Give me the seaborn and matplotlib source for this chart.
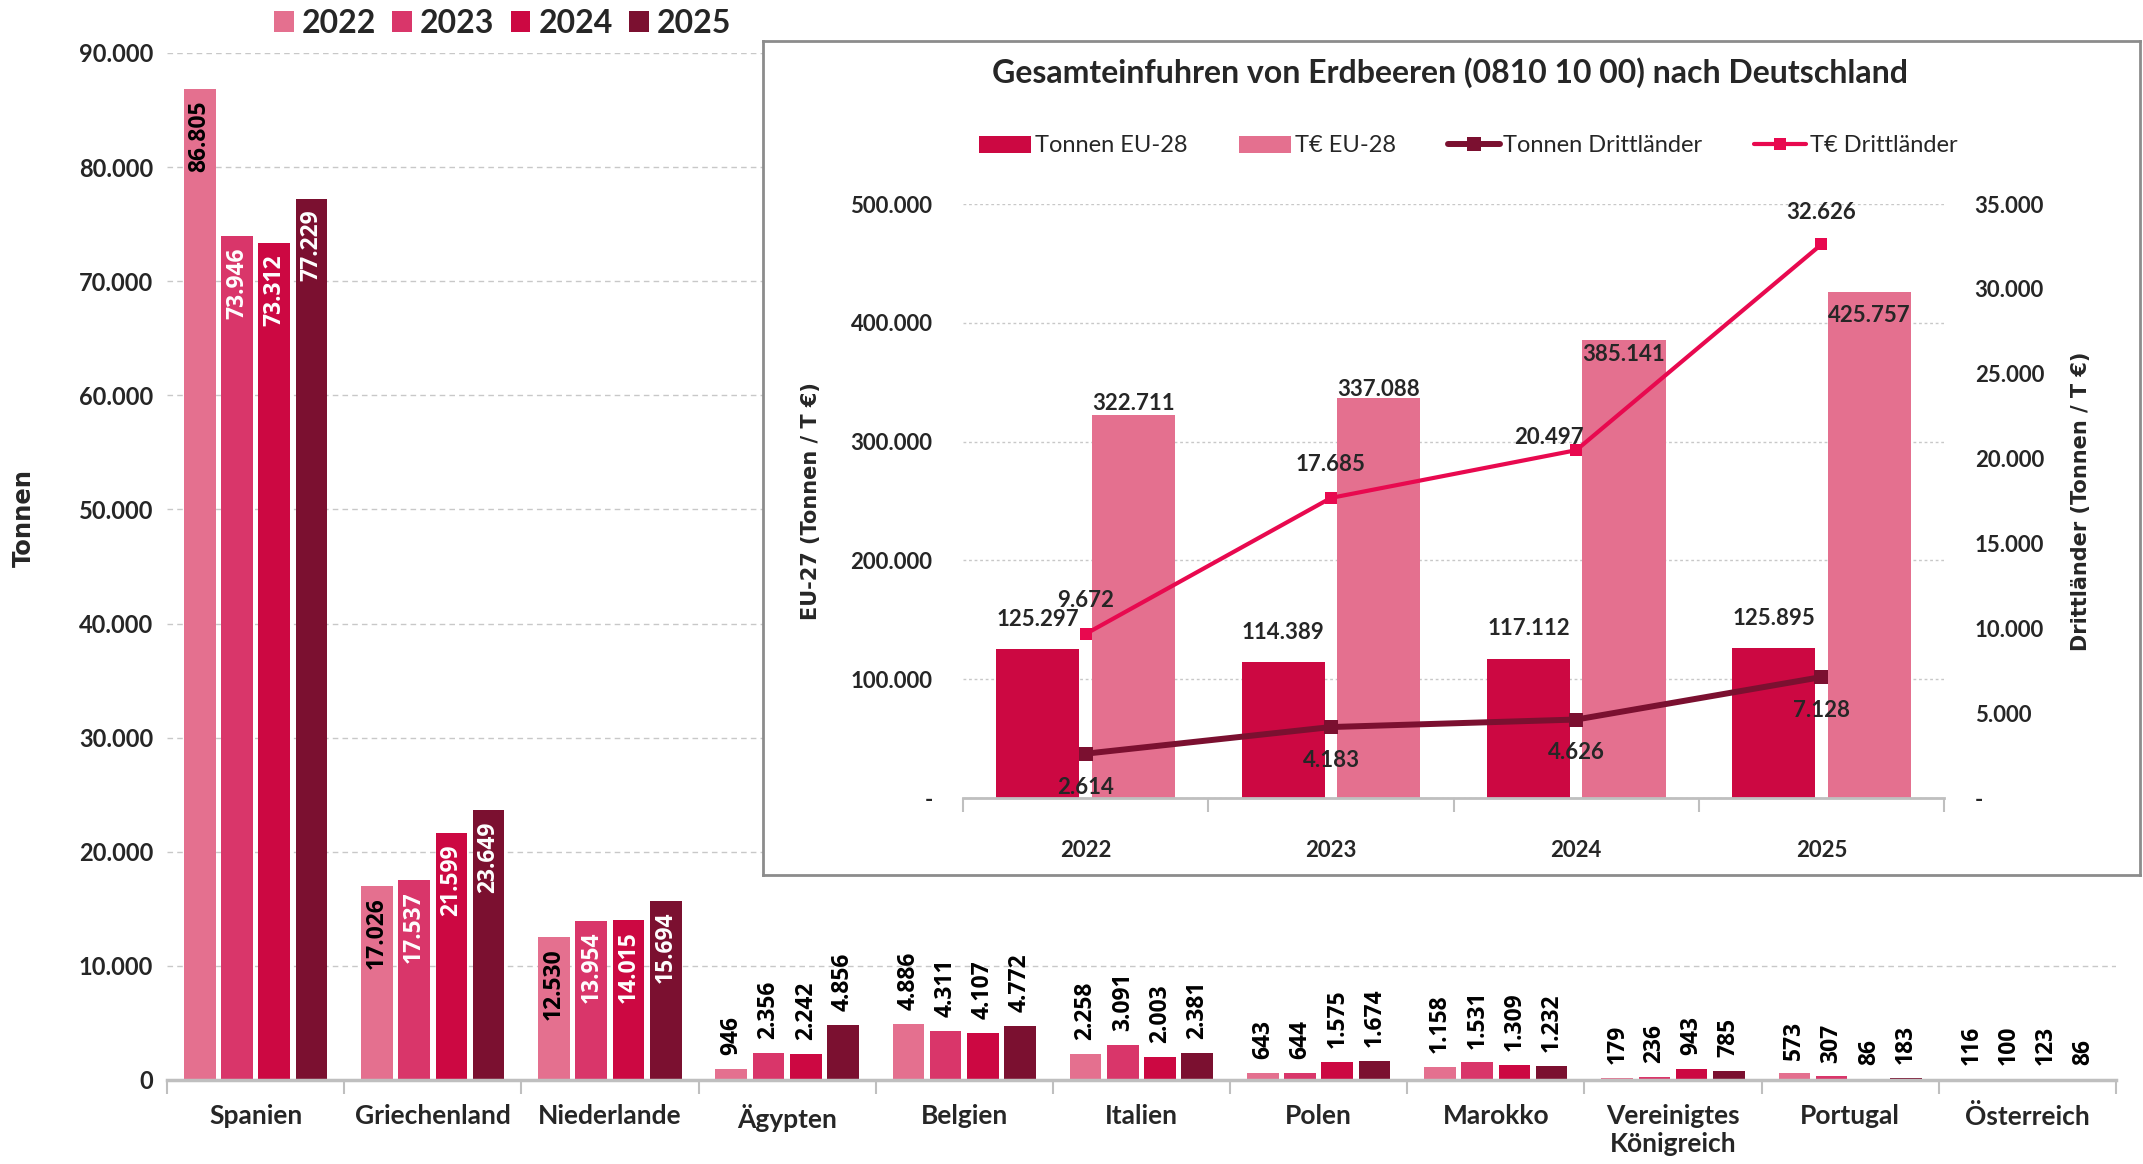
import numpy as np
import pandas as pd
import matplotlib
matplotlib.use("Agg")
import matplotlib.pyplot as plt
from matplotlib.ticker import FuncFormatter, FixedLocator, MultipleLocator
from matplotlib.patches import Patch
from matplotlib.lines import Line2D
import seaborn as sns

sns.set_theme(style="white")
plt.rcParams["font.family"] = ["Lato", "DejaVu Sans"]

# ---------- data: main chart (Tonnen je Herkunftsland) ----------
laender = ["Spanien", "Griechenland", "Niederlande", "Ägypten", "Belgien", "Italien",
           "Polen", "Marokko", "Vereinigtes\nKönigreich", "Portugal", "Österreich"]
jahre = ["2022", "2023", "2024", "2025"]
t2022 = [86805, 17026, 12530, 946, 4886, 2258, 643, 1158, 179, 573, 116]
t2023 = [73946, 17537, 13954, 2356, 4311, 3091, 644, 1531, 236, 307, 100]
t2024 = [73312, 21599, 14015, 2242, 4107, 2003, 1575, 1309, 943, 86, 123]
t2025 = [77229, 23649, 15694, 4856, 4772, 2381, 1674, 1232, 785, 183, 86]
farben_jahr = ["#E4708F", "#D9366A", "#CC0842", "#7B1030"]

# ---------- data: inset (Gesamteinfuhren) ----------
eu_tonnen = [125297, 114389, 117112, 125895]
eu_teuro = [322711, 337088, 385141, 425757]
dl_tonnen = [2614, 4183, 4626, 7128]
dl_teuro = [9672, 17685, 20497, 32626]


def de(v):
    return f"{int(round(v)):,}".replace(",", ".")


fig = plt.figure(figsize=(21.43, 11.64), dpi=100)

# ---------- main bar chart ----------
ax = fig.add_axes([0.0779, 0.0722, 0.9095, 0.8823])
df = pd.DataFrame({
    "Land": laender * 4,
    "Jahr": np.repeat(jahre, len(laender)),
    "Tonnen": t2022 + t2023 + t2024 + t2025,
})
sns.barplot(data=df, x="Land", y="Tonnen", hue="Jahr", palette=farben_jahr,
            width=0.84, gap=0.15, saturation=1, edgecolor="none", legend=False, ax=ax)
ax.set_ylim(0, 90000)
ax.set_xlim(-0.5, len(laender) - 0.5)
ax.yaxis.set_major_locator(MultipleLocator(10000))
ax.yaxis.set_major_formatter(FuncFormatter(lambda v, p: de(v)))
ax.yaxis.grid(True, ls=(0, (4, 3)), color="#c8c8c8", lw=1)
ax.set_axisbelow(True)
for s in ["left", "top", "right"]:
    ax.spines[s].set_visible(False)
ax.spines["bottom"].set_color("#bfbfbf")
ax.spines["bottom"].set_linewidth(2.5)
ax.tick_params(axis="y", length=0, pad=10, labelsize=17)
ax.tick_params(axis="x", which="major", length=0, pad=17, labelsize=19)
ax.xaxis.set_minor_locator(FixedLocator(np.arange(-0.5, len(laender), 1.0)))
ax.tick_params(axis="x", which="minor", length=10, width=1.5, color="#bfbfbf", bottom=True)
for lab in ax.get_xticklabels() + ax.get_yticklabels():
    lab.set_fontweight("bold")
ax.set_xlabel("")
ax.set_ylabel("Tonnen", fontsize=17.5, fontweight="bold", family="DejaVu Sans")
ax.yaxis.set_label_coords(-0.067, 0.547)

werte = [t2022, t2023, t2024, t2025]
for j, cont in enumerate(ax.containers):
    for i, bar in enumerate(cont):
        v = werte[j][i]
        xc = bar.get_x() + bar.get_width() / 2
        if v >= 10000:
            ax.annotate(de(v), (xc, v), xytext=(0, -8), textcoords="offset points",
                        rotation=90, ha="center", va="top", fontsize=16.5,
                        fontweight="bold", family="Open Sans",
                        color="black" if j == 0 else "white")
        else:
            ax.annotate(de(v), (xc, v), xytext=(0, 10), textcoords="offset points",
                        rotation=90, ha="center", va="bottom", fontsize=16.5,
                        fontweight="bold", family="Open Sans", color="black")

handles = [Patch(facecolor=c, edgecolor="none") for c in farben_jahr]
fig.legend(handles, jahre, loc="center left", bbox_to_anchor=(0.128, 0.980),
           ncol=4, frameon=False, prop={"size": 23, "weight": "bold"},
           handlelength=0.62, handleheight=0.62, handletextpad=0.25,
           columnspacing=0.5, borderpad=0, borderaxespad=0)

# ---------- inset frame ----------
frame = fig.add_axes([0.356, 0.2483, 0.6426, 0.7165])
frame.set_xticks([])
frame.set_yticks([])
frame.set_facecolor("white")
for s in frame.spines.values():
    s.set_color("#8c8c8c")
    s.set_linewidth(2)
fig.text(0.6767, 0.938, "Gesamteinfuhren von Erdbeeren (0810 10 00) nach Deutschland",
         ha="center", va="center", fontsize=23, fontweight="bold")

# ---------- inset chart ----------
axi = fig.add_axes([0.4494, 0.3144, 0.4578, 0.5103])
axi.patch.set_alpha(0)
df_eu = pd.DataFrame({
    "Jahr": jahre * 2,
    "Reihe": ["Tonnen EU-28"] * 4 + ["T€ EU-28"] * 4,
    "Wert": eu_tonnen + eu_teuro,
})
sns.barplot(data=df_eu, x="Jahr", y="Wert", hue="Reihe",
            palette=["#CC0842", "#E4708F"], width=0.78, gap=0.13,
            saturation=1, edgecolor="none", legend=False, ax=axi)
axi.set_ylim(0, 500000)
axi.set_xlim(-0.5, 3.5)
axi.yaxis.set_major_locator(MultipleLocator(100000))
axi.yaxis.set_major_formatter(FuncFormatter(lambda v, p: "-" if v == 0 else de(v)))
axi.yaxis.grid(True, ls=(0, (2, 2)), color="#c8c8c8", lw=1)
axi.set_axisbelow(True)
for s in ["left", "top", "right"]:
    axi.spines[s].set_visible(False)
axi.spines["bottom"].set_color("#bfbfbf")
axi.spines["bottom"].set_linewidth(2)
axi.tick_params(axis="y", length=0, pad=22, labelsize=16)
axi.tick_params(axis="x", which="major", length=0, pad=30, labelsize=16)
axi.xaxis.set_minor_locator(FixedLocator(np.arange(-0.5, 4, 1.0)))
axi.tick_params(axis="x", which="minor", length=10, width=1.5, color="#bfbfbf", bottom=True)
for lab in axi.get_xticklabels() + axi.get_yticklabels():
    lab.set_fontweight("bold")
axi.set_xlabel("")
axi.set_ylabel("EU-27 (Tonnen / T €)", fontsize=15, fontweight="bold", family="DejaVu Sans")
axi.yaxis.set_label_coords(-0.1445, 0.5)

# bar labels
teuro_dy = [8, 6, -10, -17]
for i, bar in enumerate(axi.containers[0]):
    xc = bar.get_x() + bar.get_width() / 2
    axi.annotate(de(eu_tonnen[i]), (xc, eu_tonnen[i]), xytext=(0, 14),
                 textcoords="offset points", ha="center", va="bottom",
                 fontsize=16, fontweight="bold")
for i, bar in enumerate(axi.containers[1]):
    xc = bar.get_x() + bar.get_width() / 2
    axi.annotate(de(eu_teuro[i]), (xc, eu_teuro[i]), xytext=(0, teuro_dy[i]),
                 textcoords="offset points", ha="center", va="center",
                 fontsize=16, fontweight="bold")

ax2 = axi.twinx()
df_t = pd.DataFrame({"Jahr": jahre, "Wert": dl_tonnen})
df_e = pd.DataFrame({"Jahr": jahre, "Wert": dl_teuro})
sns.lineplot(data=df_t, x="Jahr", y="Wert", color="#7B1030", lw=4.3,
             marker="s", markersize=10, markeredgewidth=0, ax=ax2)
sns.lineplot(data=df_e, x="Jahr", y="Wert", color="#E8094F", lw=3,
             marker="s", markersize=8, markeredgewidth=0, ax=ax2)
ax2.set_ylim(0, 35000)
ax2.set_xlim(-0.5, 3.5)
ax2.yaxis.set_major_locator(MultipleLocator(5000))
ax2.yaxis.set_major_formatter(FuncFormatter(lambda v, p: "-" if v == 0 else de(v)))
for s in ax2.spines.values():
    s.set_visible(False)
ax2.tick_params(axis="y", length=0, pad=22, labelsize=16)
for lab in ax2.get_yticklabels():
    lab.set_fontweight("bold")
ax2.set_xlabel("")
ax2.set_ylabel("Drittländer (Tonnen / T €)", fontsize=15, fontweight="bold",
               family="DejaVu Sans", rotation=90)
ax2.yaxis.set_label_coords(1.1295, 0.5)

line_t, line_e = ax2.lines[0], ax2.lines[1]
for i, (x, y) in enumerate(zip(line_t.get_xdata(), line_t.get_ydata())):
    ax2.annotate(de(dl_tonnen[i]), (x, y), xytext=(0, -24), textcoords="offset points",
                 ha="center", va="center", fontsize=16, fontweight="bold")
teuro_off = [(0, 24), (0, 24), (-20, 9), (0, 23)]
for i, (x, y) in enumerate(zip(line_e.get_xdata(), line_e.get_ydata())):
    ax2.annotate(de(dl_teuro[i]), (x, y), xytext=teuro_off[i], textcoords="offset points",
                 ha="center", va="center", fontsize=16, fontweight="bold")

leg_h = [Patch(facecolor="#CC0842", edgecolor="none"),
         Patch(facecolor="#E4708F", edgecolor="none"),
         Line2D([], [], color="#7B1030", lw=4.3, marker="s", markersize=10, markeredgewidth=0),
         Line2D([], [], color="#E8094F", lw=3, marker="s", markersize=8, markeredgewidth=0)]
fig.legend(leg_h, ["Tonnen EU-28", "T€ EU-28", "Tonnen Drittländer", "T€ Drittländer"],
           loc="center left", bbox_to_anchor=(0.457, 0.8746), ncol=4, frameon=False,
           prop={"size": 17}, handlelength=2.2, handleheight=0.75,
           handletextpad=0.15, columnspacing=2.2, borderpad=0, borderaxespad=0)

fig.savefig("out.png", dpi=100)
